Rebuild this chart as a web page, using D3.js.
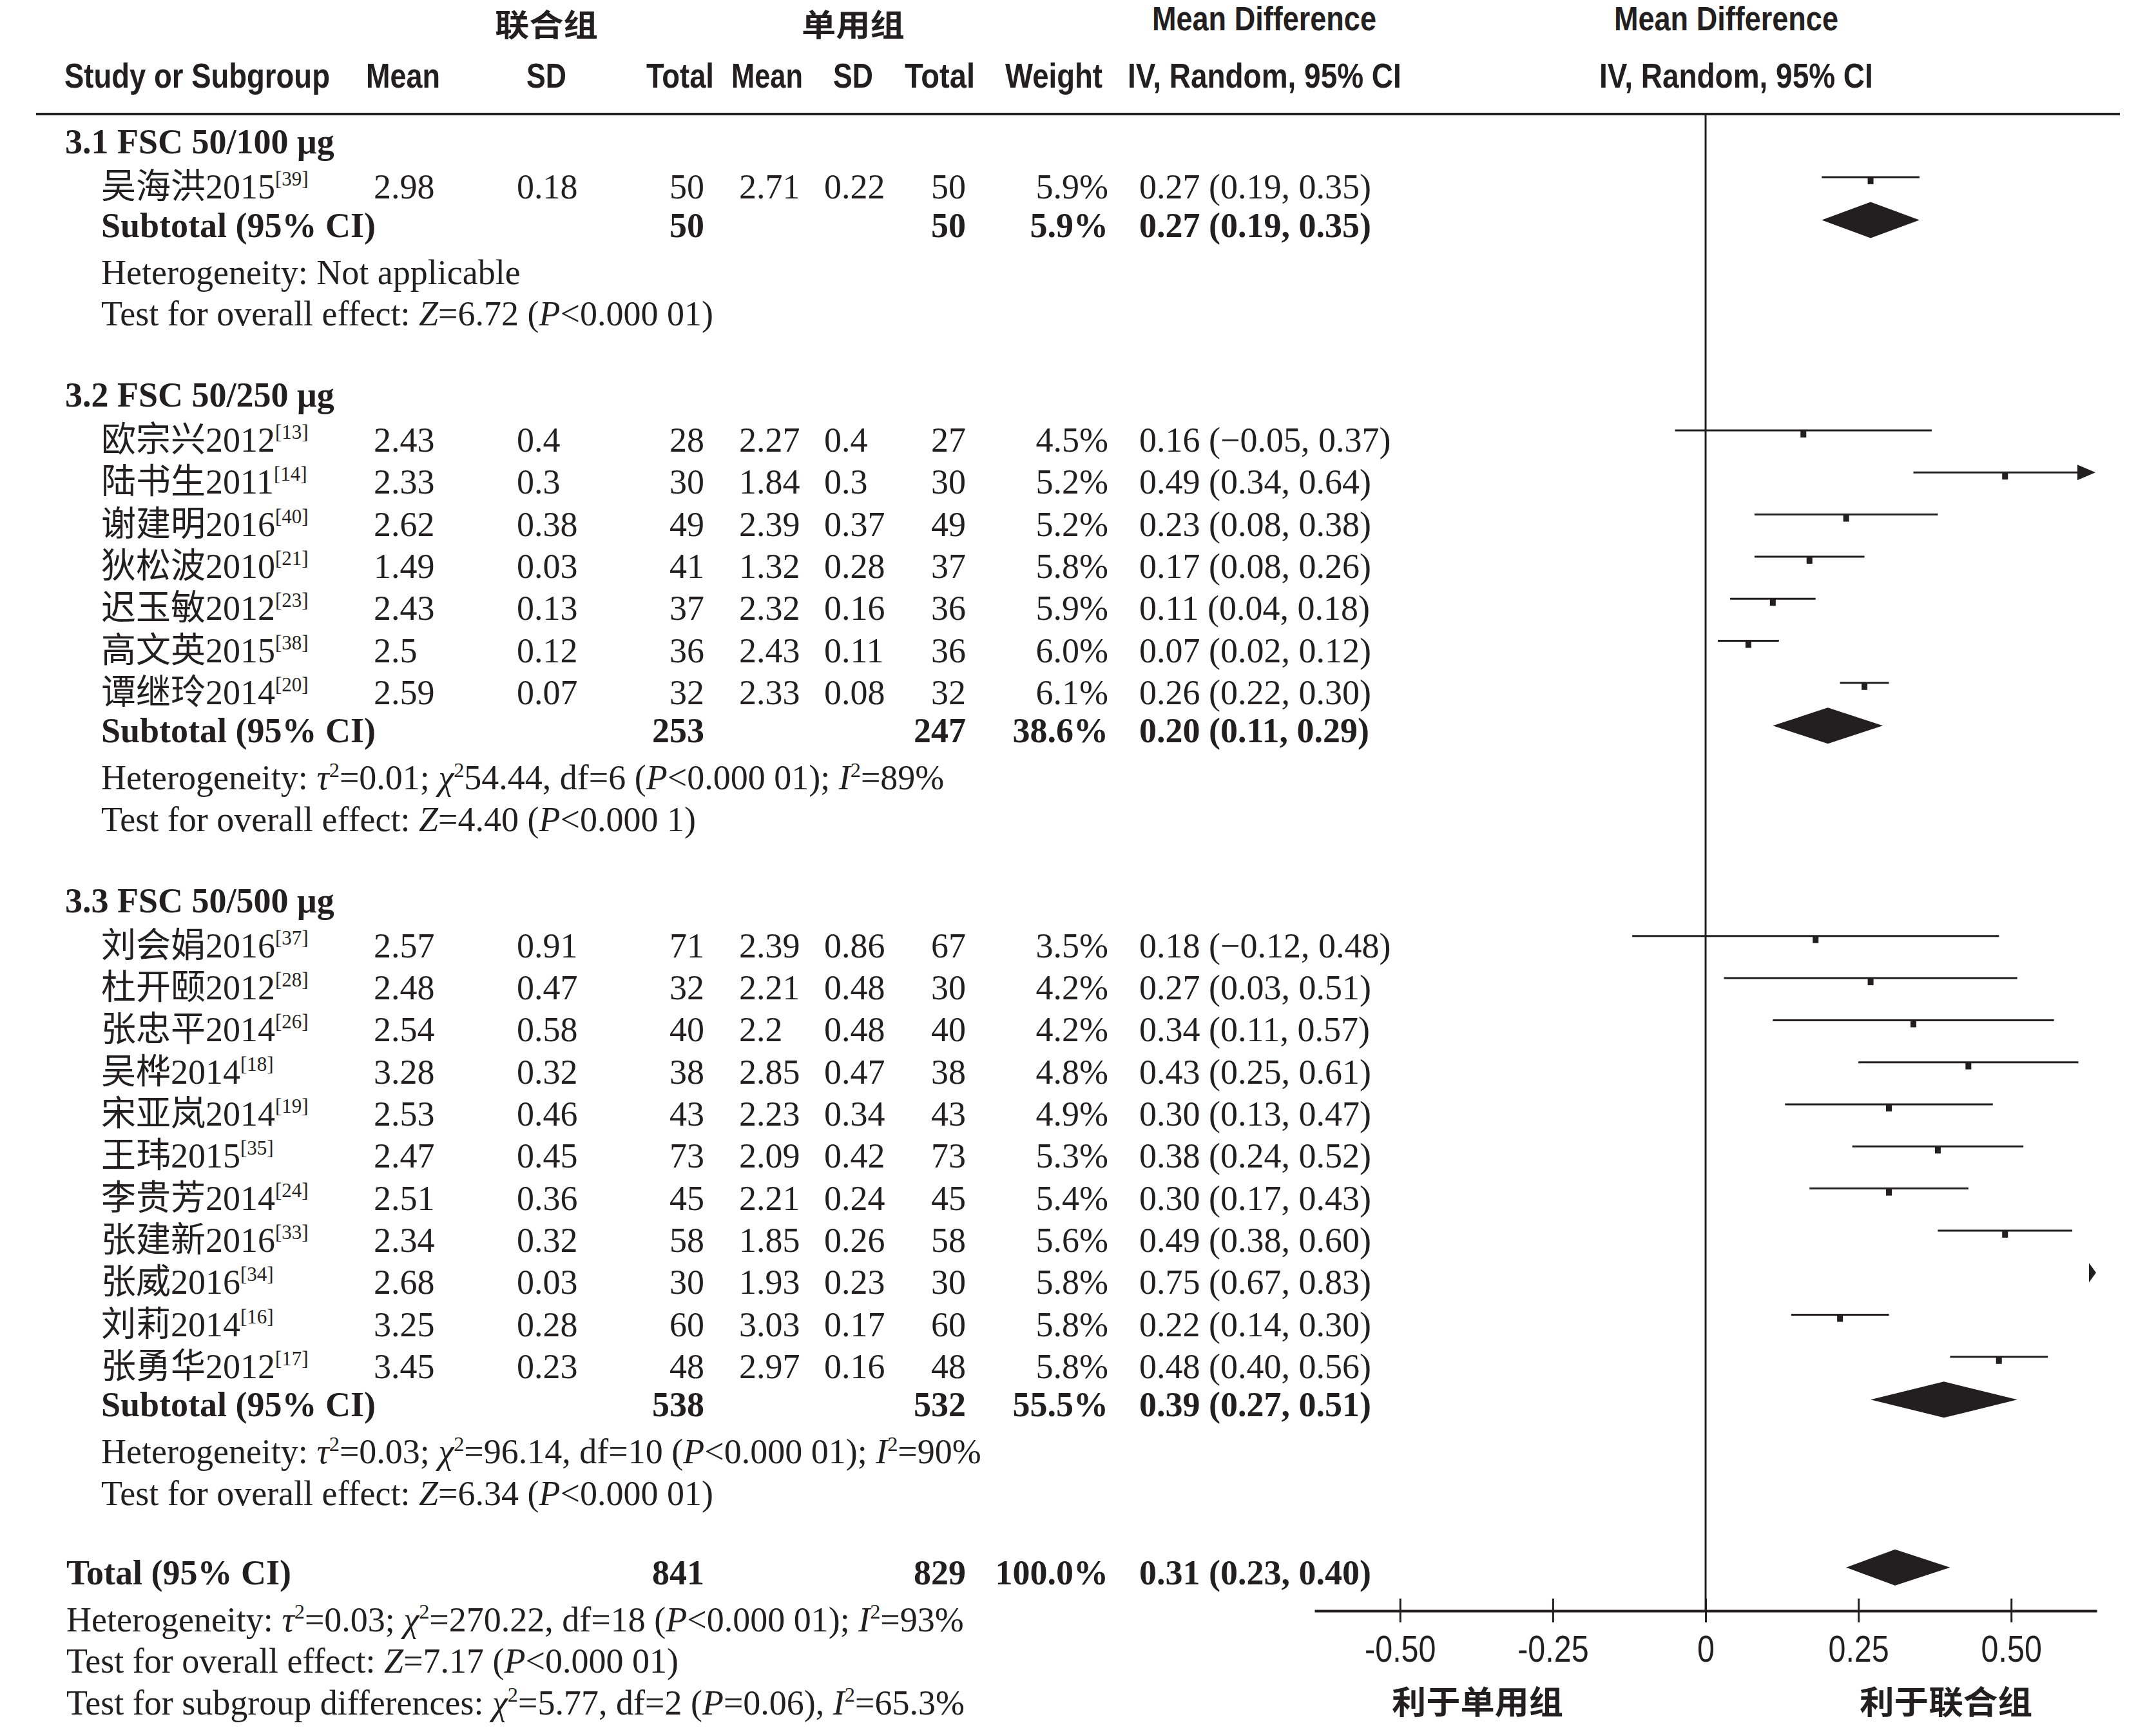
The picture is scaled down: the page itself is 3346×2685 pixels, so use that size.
<!DOCTYPE html>
<html><head><meta charset="utf-8">
<script src="https://cdn.jsdelivr.net/npm/d3@7"></script>
<style>body{margin:0;background:#fff}</style>
</head><body><svg id="c" width="3346" height="2685"></svg>
<script>
// ---------------- DATA ----------------
const groupTitles = ["3.1 FSC 50/100 μg", "3.2 FSC 50/250 μg", "3.3 FSC 50/500 μg"];
const studyGroup = [0, 1,1,1,1,1,1,1, 2,2,2,2,2,2,2,2,2,2,2];
const studyNames = ["吴海洪2015","欧宗兴2012","陆书生2011","谢建明2016","狄松波2010","迟玉敏2012","高文英2015","谭继玲2014",
  "刘会娟2016","杜开颐2012","张忠平2014","吴桦2014","宋亚岚2014","王玮2015","李贵芳2014","张建新2016","张威2016","刘莉2014","张勇华2012"];
const studyRefs = ["39","13","14","40","21","23","38","20","37","28","26","18","19","35","24","33","34","16","17"];
const meanComb = [2.98, 2.43,2.33,2.62,1.49,2.43,2.5,2.59, 2.57,2.48,2.54,3.28,2.53,2.47,2.51,2.34,2.68,3.25,3.45];
const sdComb   = [0.18, 0.4,0.3,0.38,0.03,0.13,0.12,0.07, 0.91,0.47,0.58,0.32,0.46,0.45,0.36,0.32,0.03,0.28,0.23];
const nComb    = [50, 28,30,49,41,37,36,32, 71,32,40,38,43,73,45,58,30,60,48];
const meanSingle = [2.71, 2.27,1.84,2.39,1.32,2.32,2.43,2.33, 2.39,2.21,2.2,2.85,2.23,2.09,2.21,1.85,1.93,3.03,2.97];
const sdSingle   = [0.22, 0.4,0.3,0.37,0.28,0.16,0.11,0.08, 0.86,0.48,0.48,0.47,0.34,0.42,0.24,0.26,0.23,0.17,0.16];
const nSingle    = [50, 27,30,49,37,36,36,32, 67,30,40,38,43,73,45,58,30,60,48];
const weights    = [5.9, 4.5,5.2,5.2,5.8,5.9,6.0,6.1, 3.5,4.2,4.2,4.8,4.9,5.3,5.4,5.6,5.8,5.8,5.8];
const mdValues   = [0.27, 0.16,0.49,0.23,0.17,0.11,0.07,0.26, 0.18,0.27,0.34,0.43,0.30,0.38,0.30,0.49,0.75,0.22,0.48];
const ciLow      = [0.19, -0.05,0.34,0.08,0.08,0.04,0.02,0.22, -0.12,0.03,0.11,0.25,0.13,0.24,0.17,0.38,0.67,0.14,0.40];
const ciHigh     = [0.35, 0.37,0.64,0.38,0.26,0.18,0.12,0.30, 0.48,0.51,0.57,0.61,0.47,0.52,0.43,0.60,0.83,0.30,0.56];

const subNComb   = [50, 253, 538];
const subNSingle = [50, 247, 532];
const subWeight  = [5.9, 38.6, 55.5];
const subMd      = [0.27, 0.20, 0.39];
const subLow     = [0.19, 0.11, 0.27];
const subHigh    = [0.35, 0.29, 0.51];

const totalLabel = "Total (95% CI)";
const totalNComb = 841, totalNSingle = 829, totalWeight = 100.0;
const totalMd = 0.31, totalLow = 0.23, totalHigh = 0.40;

// rich text segments: i = italic, s = superscript
const groupHet = [
  [{t:"Heterogeneity: Not applicable"}],
  [{t:"Heterogeneity: "},{t:"τ",i:1},{t:"2",s:1},{t:"=0.01; "},{t:"χ",i:1},{t:"2",s:1},{t:"54.44, df=6 ("},{t:"P",i:1},{t:"<0.000 01); "},{t:"I",i:1},{t:"2",s:1},{t:"=89%"}],
  [{t:"Heterogeneity: "},{t:"τ",i:1},{t:"2",s:1},{t:"=0.03; "},{t:"χ",i:1},{t:"2",s:1},{t:"=96.14, df=10 ("},{t:"P",i:1},{t:"<0.000 01); "},{t:"I",i:1},{t:"2",s:1},{t:"=90%"}]
];
const groupTest = [
  [{t:"Test for overall effect: "},{t:"Z",i:1},{t:"=6.72 ("},{t:"P",i:1},{t:"<0.000 01)"}],
  [{t:"Test for overall effect: "},{t:"Z",i:1},{t:"=4.40 ("},{t:"P",i:1},{t:"<0.000 1)"}],
  [{t:"Test for overall effect: "},{t:"Z",i:1},{t:"=6.34 ("},{t:"P",i:1},{t:"<0.000 01)"}]
];
const overallNotes = [
  [{t:"Heterogeneity: "},{t:"τ",i:1},{t:"2",s:1},{t:"=0.03; "},{t:"χ",i:1},{t:"2",s:1},{t:"=270.22, df=18 ("},{t:"P",i:1},{t:"<0.000 01); "},{t:"I",i:1},{t:"2",s:1},{t:"=93%"}],
  [{t:"Test for overall effect: "},{t:"Z",i:1},{t:"=7.17 ("},{t:"P",i:1},{t:"<0.000 01)"}],
  [{t:"Test for subgroup differences: "},{t:"χ",i:1},{t:"2",s:1},{t:"=5.77, df=2 ("},{t:"P",i:1},{t:"=0.06), "},{t:"I",i:1},{t:"2",s:1},{t:"=65.3%"}]
];

const tickValues = [-0.5, -0.25, 0, 0.25, 0.5];
const tickLabels = ["-0.50", "-0.25", "0", "0.25", "0.50"];
const favourLabels = ["利于单用组", "利于联合组"];
const groupHeaders = ["联合组", "单用组"];

// ---------------- DRAW ----------------
const INK = "#231f20";
const SERIF = "'Liberation Serif','Times New Roman','Noto Sans CJK SC',serif";
const NARROW = "'Liberation Sans Narrow','Arial Narrow','Liberation Sans',sans-serif";
const CJK = "'Noto Sans CJK SC',sans-serif";
const FS = 54;

const svg = d3.select("#c");
svg.append("rect").attr("width",3346).attr("height",2685).attr("fill","#fff");

const x = d3.scaleLinear().domain([-0.64, 0.64]).range([2040, 3254]);
const f2 = d3.format(".2f");
const f1 = d3.format(".1f");
const ciText = (m,l,h) => `${f2(m)} (${f2(l)}, ${f2(h)})`;

function rich(sel, segs, fs){
  segs.forEach((s, i) => {
    const t = sel.append("tspan").text(s.t);
    if (s.i) t.attr("font-style","italic");
    if (s.s) t.attr("font-size", fs*0.6).attr("dy", -fs*0.36);
    else if (i > 0 && segs[i-1].s) t.attr("dy", fs*0.36);
  });
}

function txt(xp, y, s, opts={}){
  const t = svg.append("text").attr("x",xp).attr("y",y)
    .attr("font-family", opts.family || SERIF)
    .attr("font-size", opts.size || FS)
    .attr("fill", INK)
    .attr("text-anchor", opts.anchor || "start");
  if (opts.bold) t.attr("font-weight","bold");
  if (s !== null) t.text(s);
  return t;
}

// text horizontally scaled to a given width (condensed look)
function squeeze(xp, y, s, width, opts={}){
  const g = svg.append("g");
  const t = g.append("text").attr("x",0).attr("y",0)
    .attr("font-family", opts.family || NARROW)
    .attr("font-size", opts.size || 54)
    .attr("font-weight", "bold")
    .attr("fill", INK)
    .attr("text-anchor", opts.anchor || "start")
    .text(s);
  const w = t.node().getComputedTextLength();
  g.attr("transform", `translate(${xp},${y}) scale(${width / w},1)`);
  return t;
}

// header
squeeze(768, 56, groupHeaders[0], 160, {family:CJK, size:48});
squeeze(1244, 56, groupHeaders[1], 160, {family:CJK, size:48});
squeeze(1788, 47, "Mean Difference", 348, {size:51});
squeeze(2505, 47, "Mean Difference", 348, {size:51});
squeeze(100, 136, "Study or Subgroup", 412);
squeeze(568, 136, "Mean", 115);
squeeze(817, 136, "SD", 62);
squeeze(1003, 136, "Total", 105);
squeeze(1135, 136, "Mean", 111);
squeeze(1293, 136, "SD", 62);
squeeze(1404, 136, "Total", 109);
squeeze(1560, 136, "Weight", 151);
squeeze(1750, 136, "IV, Random, 95% CI", 425);
squeeze(2482, 136, "IV, Random, 95% CI", 425);

svg.append("line").attr("x1",56).attr("x2",3290).attr("y1",177).attr("y2",177)
  .attr("stroke",INK).attr("stroke-width",4);

// build row list
const rows = [];
groupTitles.forEach((g, gi) => {
  rows.push({type:"group", gi});
  studyGroup.forEach((sg, si) => { if (sg === gi) rows.push({type:"study", si}); });
  rows.push({type:"subtotal", gi});
  rows.push({type:"het", segs: groupHet[gi], indent:true});
  rows.push({type:"test", segs: groupTest[gi], indent:true});
});
rows.push({type:"total"});
overallNotes.forEach((segs, k) => rows.push({type: k===0 ? "het" : "test", segs, indent:false}));

function gap(prev, cur){
  if (cur === "group") return 126;
  if (cur === "study") return prev === "group" ? 70 : 65.3;
  if (cur === "subtotal") return 59.5;
  if (cur === "het") return 73;
  if (cur === "test") return 64.5;
  if (cur === "total") return 123;
  return 65;
}
let y = 238;
rows.forEach((r, i) => { if (i > 0) y += gap(rows[i-1].type, r.type); r.y = y; });

const COL = {name:157, outer:103, mean1:580, sd1:802, n1:1093, mean2:1147, sd2:1279, n2:1499, w:1720, ci:1768};
const plot = svg.append("g");

function diamond(cy, m, l, h){
  plot.append("path")
    .attr("d", `M${x(l)},${cy} L${x(m)},${cy-28} L${x(h)},${cy} L${x(m)},${cy+28} Z`)
    .attr("fill", INK);
}

rows.forEach(r => {
  if (r.type === "group") {
    txt(101, r.y, groupTitles[r.gi], {bold:true});
  } else if (r.type === "study") {
    const i = r.si;
    const t = txt(COL.name, r.y, null);
    t.append("tspan").text(studyNames[i]);
    t.append("tspan").text(`[${studyRefs[i]}]`).attr("font-size", 31).attr("dy", -20);
    txt(COL.mean1, r.y, String(meanComb[i]));
    txt(COL.sd1, r.y, String(sdComb[i]));
    txt(COL.n1, r.y, String(nComb[i]), {anchor:"end"});
    txt(COL.mean2, r.y, String(meanSingle[i]));
    txt(COL.sd2, r.y, String(sdSingle[i]));
    txt(COL.n2, r.y, String(nSingle[i]), {anchor:"end"});
    txt(COL.w, r.y, f1(weights[i]) + "%", {anchor:"end"});
    txt(COL.ci, r.y, ciText(mdValues[i], ciLow[i], ciHigh[i]));
    // forest mark
    const ly = r.y - 33;
    const [d0, d1] = x.domain();
    if (ciLow[i] >= d1) {
      plot.append("path").attr("d", `M${x(d1)-12},${ly-15} L${x(d1)-1},${ly} L${x(d1)-12},${ly+15} Z`).attr("fill", INK);
    } else {
      const lo = Math.max(ciLow[i], d0), hi = Math.min(ciHigh[i], d1);
      const arrow = ciHigh[i] >= d1;
      plot.append("line").attr("x1", x(lo)).attr("x2", arrow ? x(hi) - 20 : x(hi))
        .attr("y1", ly).attr("y2", ly).attr("stroke", INK).attr("stroke-width", 3);
      if (arrow) {
        plot.append("path").attr("d", `M${x(hi)-30},${ly-12} L${x(hi)-2},${ly} L${x(hi)-30},${ly+12} Z`).attr("fill", INK);
      }
      plot.append("rect").attr("x", x(mdValues[i]) - 4.5).attr("y", ly).attr("width", 9).attr("height", 11).attr("fill", INK);
    }
  } else if (r.type === "subtotal") {
    const g = r.gi;
    txt(COL.name, r.y, "Subtotal (95% CI)", {bold:true});
    txt(COL.n1, r.y, String(subNComb[g]), {anchor:"end", bold:true});
    txt(COL.n2, r.y, String(subNSingle[g]), {anchor:"end", bold:true});
    txt(COL.w, r.y, f1(subWeight[g]) + "%", {anchor:"end", bold:true});
    txt(COL.ci, r.y, ciText(subMd[g], subLow[g], subHigh[g]), {bold:true});
    diamond(r.y - 26, subMd[g], subLow[g], subHigh[g]);
  } else if (r.type === "total") {
    txt(COL.outer, r.y, totalLabel, {bold:true});
    txt(COL.n1, r.y, String(totalNComb), {anchor:"end", bold:true});
    txt(COL.n2, r.y, String(totalNSingle), {anchor:"end", bold:true});
    txt(COL.w, r.y, f1(totalWeight) + "%", {anchor:"end", bold:true});
    txt(COL.ci, r.y, ciText(totalMd, totalLow, totalHigh), {bold:true});
    diamond(r.y - 26, totalMd, totalLow, totalHigh);
  } else {
    const t = txt(r.indent ? COL.name : COL.outer, r.y, null);
    rich(t, r.segs, FS);
  }
});

// zero line
const AXIS_Y = 2500;
plot.append("line").attr("x1", x(0)).attr("x2", x(0)).attr("y1", 177).attr("y2", AXIS_Y)
  .attr("stroke", INK).attr("stroke-width", 3);

// axis
const axis = d3.axisBottom(x).tickValues(tickValues)
  .tickFormat((d, i) => tickLabels[i]).tickSize(18).tickSizeOuter(0);
const ag = svg.append("g").attr("transform", `translate(0,${AXIS_Y})`).call(axis);
ag.select(".domain").attr("stroke", INK).attr("stroke-width", 4);
ag.selectAll(".tick line").attr("y1", -19).attr("y2", 18).attr("stroke", INK).attr("stroke-width", 3);
ag.selectAll(".tick text").attr("y", 79).attr("dy", 0)
  .attr("font-family", NARROW).attr("font-size", 57).attr("fill", INK)
  .attr("transform", "scale(0.85,1)");

// favour labels
squeeze(2293, 2660, favourLabels[0], 266, {family:CJK, size:50, anchor:"middle"});
squeeze(3020, 2660, favourLabels[1], 268, {family:CJK, size:50, anchor:"middle"});
</script></body></html>
